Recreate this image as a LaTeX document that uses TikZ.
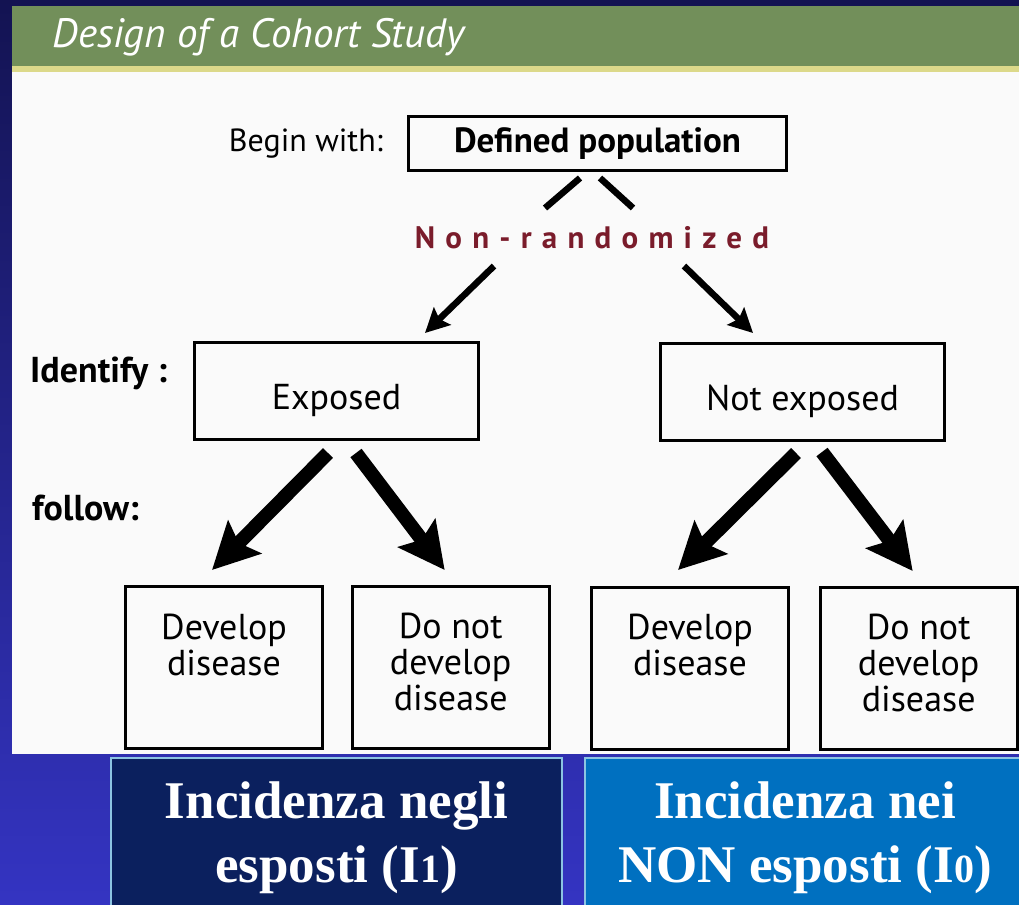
\documentclass[tikz,border=0pt]{standalone}
\usepackage{fontspec}
\setmainfont{PT Sans}
\newfontfamily\incfont{Liberation Serif}
\usepackage{tikz}
\usetikzlibrary{arrows.meta, positioning}

\definecolor{bgtop}{HTML}{131352}
\definecolor{bgbot}{HTML}{3434C2}
\definecolor{bargreen}{HTML}{728F5A}
\definecolor{baryellow}{HTML}{DCD98A}
\definecolor{panel}{HTML}{FAFAFA}
\definecolor{wine}{HTML}{7A1C2B}
\definecolor{incnavy}{HTML}{0B205E}
\definecolor{incblue}{HTML}{0070C0}
\definecolor{incedge}{HTML}{8CC4E2}

\tikzstyle{topbox} = [rectangle, draw=black, line width=3pt, minimum width=378pt, minimum height=54pt, text centered, font=\fontsize{35}{35}\selectfont\bfseries]
\tikzstyle{groupbox} = [rectangle, draw=black, line width=3pt, minimum width=284pt, minimum height=97pt, text centered, text height=40pt, text depth=3pt, font=\fontsize{36}{36}\selectfont]
\tikzstyle{outcome} = [rectangle, draw=black, line width=3pt, minimum width=195pt, minimum height=162pt, align=center, font=\fontsize{36}{36}\selectfont]
\tikzstyle{labeltext} = [anchor=west, inner sep=0pt, font=\fontsize{36}{36}\selectfont\bfseries]
\tikzstyle{incidence} = [rectangle, draw=incedge, line width=1.5pt, text=white, align=center, minimum height=160pt, font=\incfont\fontsize{53}{64}\selectfont\bfseries]
\tikzstyle{splitline} = [line width=6.5pt]
\tikzstyle{arrow} = [line width=6.5pt, -{Stealth[length=24pt, width=24pt, inset=4pt]}]
\tikzstyle{bigarrow} = [line width=14pt, -{Stealth[length=46pt, width=46pt, inset=8pt]}]

\newcommand{\boxlines}[1]{\raisebox{-1pt}[0pt][0pt]{\parbox{190pt}{\centering #1}}}

\begin{document}
\begin{tikzpicture}[x=1pt, y=-1pt]

	% Slide background
	\useasboundingbox (0,0) rectangle (1019,904);
	\shade [top color=bgtop, bottom color=bgbot] (0,0) rectangle (1019,904);
	\fill [bargreen] (12,6) rectangle (1019,66);
	\fill [baryellow] (12,66) rectangle (1019,72);
	\fill [panel] (12,72) rectangle (1019,754);

	% Nodes
	\node (title) [anchor=west, text=white, font=\fontsize{41}{41}\selectfont\itshape] at (49,37) {Design of a Cohort Study};
	\node (pop) [topbox] at (597.5,143.5) {Defined population};
	\node (begin) [left=24pt of pop, inner sep=0pt, font=\fontsize{32}{32}\selectfont] {Begin with:};
	\node (nonrand) [text=wine, font=\fontsize{31}{31}\selectfont\bfseries] at (592,238) {\addfontfeature{LetterSpace=33}Non-randomized};
	\node (expo) [groupbox] at (336.5,391) {Exposed};
	\node (notexpo) [groupbox] at (802.5,391.5) {Not exposed};
	\node (identify) [labeltext] at (30,373) {Identify :};
	\node (follow) [labeltext] at (32,508) {follow:};
	\node (devA) [outcome] at (224,667.5) {\boxlines{Develop\\disease\\\mbox{}}};
	\node (nodevA) [outcome, right=27pt of devA] {\boxlines{Do not\\develop\\disease}};
	\node (devB) [outcome] at (690,668) {\boxlines{Develop\\disease\\\mbox{}}};
	\node (nodevB) [outcome, right=29pt of devB] {\boxlines{Do not\\develop\\disease}};
	\node (incA) [incidence, fill=incnavy, minimum width=451pt] at (336.5,838) {Incidenza negli\\esposti (I{\fontsize{40}{40}\selectfont 1})};
	\node (incB) [incidence, fill=incblue, minimum width=440pt] at (805,838) {Incidenza nei\\NON esposti (I{\fontsize{40}{40}\selectfont 0})};

	% Arrows
	\draw [splitline] ([shift={(-17.5,6)}]pop.south) -- ([shift={(-47,-30)}]nonrand.center);
	\draw [splitline] ([shift={(2.5,6)}]pop.south) -- ([shift={(41,-30)}]nonrand.center);
	\draw [arrow] ([shift={(-98,28)}]nonrand.center) -- ([shift={(88.5,-8)}]expo.north);
	\draw [arrow] ([shift={(92,28)}]nonrand.center) -- ([shift={(-49.5,-8.5)}]notexpo.north);
	\draw [bigarrow] ([shift={(-8.5,12)}]expo.south) -- ([shift={(-12,-15)}]devA.north);
	\draw [bigarrow] ([shift={(19.5,12)}]expo.south) -- ([shift={(-6,-15)}]nodevA.north);
	\draw [bigarrow] ([shift={(-6.5,11.5)}]notexpo.south) -- ([shift={(-12,-15.5)}]devB.north);
	\draw [bigarrow] ([shift={(19.5,10.5)}]notexpo.south) -- ([shift={(-6,-14.5)}]nodevB.north);

\end{tikzpicture}
\end{document}
